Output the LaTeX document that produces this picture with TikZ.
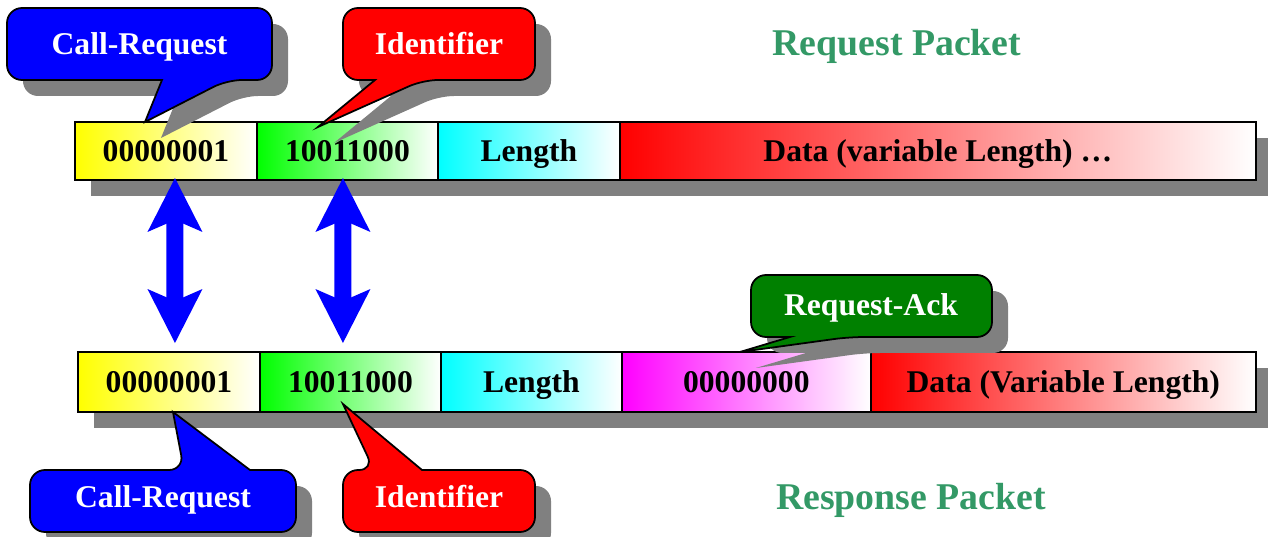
\documentclass[tikz,border=0pt]{standalone}
\usepackage{fontspec}
\setmainfont{Liberation Serif}
\usepackage{xcolor}
\usetikzlibrary{arrows.meta,positioning,calc,backgrounds,shadows}
\definecolor{pkgreen}{HTML}{339966}
\definecolor{cblue}{HTML}{0000FF}
\definecolor{cred}{HTML}{FF0000}
\definecolor{cgreen}{HTML}{008000}
\definecolor{cshadow}{HTML}{808080}
\tikzset{
  field/.style={rectangle,draw=black,line width=1pt,outer sep=0pt,inner sep=0pt,
                minimum height=1.16cm,right color=white,text height=12.2pt,text depth=0pt,
                font=\fontsize{18}{20}\selectfont\bfseries},
  bubble/.style={draw=black,line width=1pt,
                 drop shadow={shadow xshift=0.32cm,shadow yshift=-0.32cm,fill=cshadow,opacity=1}},
  btext/.style={text=white,text height=12.2pt,text depth=0pt,inner sep=0pt,
                font=\fontsize{18}{20}\selectfont\bfseries},
  title/.style={text=pkgreen,text height=14.6pt,text depth=0pt,inner sep=0pt,
                font=\fontsize{21.5}{24}\selectfont\bfseries},
  pair/.style={{Stealth[length=1.08cm,width=1.1cm,inset=0.24cm,line width=0pt]}-{Stealth[length=1.08cm,width=1.1cm,inset=0.24cm,line width=0pt]},
               line width=0.34cm,draw=cblue},
}

\begin{document}
\begin{tikzpicture}[x=0.02cm,y=-0.02cm]
  \useasboundingbox (0,0) rectangle (1268,537);
  % request packet
  \node[field,anchor=north west,minimum width=3.64cm,left color=yellow] (q1) at (75,122) {00000001};
  \node[field,right=0pt of q1,minimum width=3.62cm,left color=green] (q2) {10011000};
  \node[field,right=0pt of q2,minimum width=3.64cm,left color=cyan] (q3) {Length};
  \node[field,right=0pt of q3,minimum width=12.72cm,left color=red] (q4) {Data (variable Length) …};
  % response packet
  \node[field,anchor=north west,minimum width=3.64cm,minimum height=1.2cm,left color=yellow] (s1) at (78,352) {00000001};
  \node[field,right=0pt of s1,minimum width=3.62cm,minimum height=1.2cm,left color=green] (s2) {10011000};
  \node[field,right=0pt of s2,minimum width=3.62cm,minimum height=1.2cm,left color=cyan] (s3) {Length};
  \node[field,right=0pt of s3,minimum width=4.98cm,minimum height=1.2cm,left color=magenta] (s4) {00000000};
  \node[field,right=0pt of s4,minimum width=7.7cm,minimum height=1.2cm,left color=red] (s5) {Data (Variable Length)};
  \begin{scope}[on background layer]
    \fill[cshadow] ([shift={(0.32cm,-0.32cm)}]q1.north west) rectangle ([shift={(0.32cm,-0.32cm)}]q4.south east);
    \fill[cshadow] ([shift={(0.32cm,-0.32cm)}]s1.north west) rectangle ([shift={(0.32cm,-0.32cm)}]s5.south east);
  \end{scope}
  % matching fields
  \draw[pair] ([xshift=0.18cm,yshift=0.04cm]q1.south) -- ([xshift=0.12cm,yshift=0.18cm]s1.north);
  \draw[pair] ([xshift=-0.09cm,yshift=0.04cm]q2.south) -- ([xshift=-0.15cm,yshift=0.18cm]s2.north);
  % callouts
  \draw[bubble,fill=cblue] (140,8) [rounded corners=0.3cm] -- (272,8) -- (272,80) -- (227,80)
        [sharp corners] -- ([xshift=-0.42cm]q1.north) -- (162,80) [rounded corners=0.3cm] -- (7,80) -- (7,8) -- cycle;
  \node[btext] (callq) at (139.5,44) {Call-Request};
  \draw[bubble,fill=cred] (439,8) [rounded corners=0.3cm] -- (535,8) -- (535,80) -- (423,80)
        [sharp corners] -- ([xshift=-0.59cm,yshift=-0.1cm]q2.north) -- (375,80) [rounded corners=0.3cm] -- (343,80) -- (343,8) -- cycle;
  \node[btext] (identq) at (439,44) {Identifier};
  \draw[bubble,fill=cgreen] (871,275) [rounded corners=0.3cm] -- (992,275) -- (992,337) -- (849,337)
        [sharp corners] -- ([xshift=-0.13cm]s4.north) -- (790,337) [rounded corners=0.3cm] -- (751,337) -- (751,275) -- cycle;
  \node[btext] (ack) at (871,305) {Request-Ack};
  \draw[bubble,fill=cblue] (163,532) [rounded corners=0.3cm] -- (30,532) -- (30,470) -- (184,470)
        [sharp corners] -- ([xshift=0.08cm]s1.south) -- (250,470) [rounded corners=0.3cm] -- (296,470) -- (296,532) -- cycle;
  \node[btext] (calls) at (163,497) {Call-Request};
  \draw[bubble,fill=cred] (439,532) [rounded corners=0.3cm] -- (343,532) -- (343,470) -- (374,470)
        [sharp corners] -- ([xshift=-0.15cm,yshift=0.16cm]s2.south) -- (422,470) [rounded corners=0.3cm] -- (535,470) -- (535,532) -- cycle;
  \node[btext] (idents) at (439,497) {Identifier};
  % titles
  \node[title] (reqtitle) at (897,43) {Request Packet};
  \node[title] (restitle) at (911,497) {Response Packet};
\end{tikzpicture}
\end{document}
